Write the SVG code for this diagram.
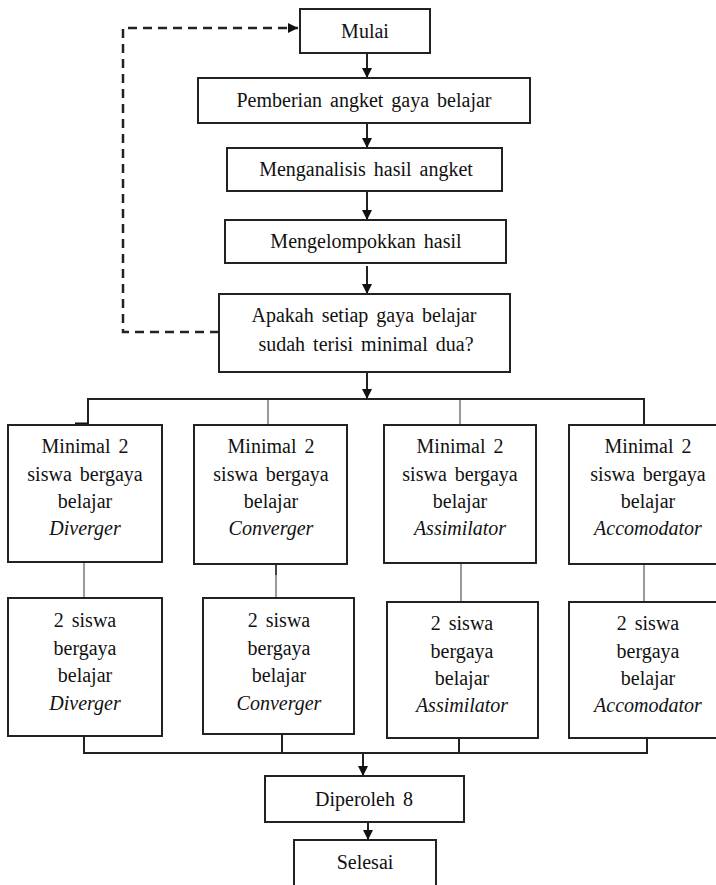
<svg xmlns="http://www.w3.org/2000/svg" width="716" height="885" viewBox="0 0 716 885">
<style>
.box{fill:#fff;stroke:#222;stroke-width:2}
.t{font-family:"Liberation Serif","Times New Roman",serif;font-size:20px;fill:#111;text-anchor:middle;word-spacing:3px}
.i{font-style:italic;word-spacing:0}
.ln{fill:none;stroke:#222;stroke-width:2}
.gr{fill:none;stroke:#9a9a9a;stroke-width:2}
.dash{fill:none;stroke:#222;stroke-width:2.5;stroke-dasharray:9 6}
</style>
<defs>
<marker id="ah" markerUnits="userSpaceOnUse" markerWidth="10" markerHeight="10" viewBox="0 0 10 10" refX="10" refY="5" orient="auto">
<path d="M0,0 L10,5 L0,10 Z" fill="#111"/>
</marker>
</defs>
<rect width="716" height="885" fill="#fff"/>
<g id="connectors">
<path class="dash" d="M219,332 H123 V28 H298" marker-end="url(#ah)"/>
<line class="ln" x1="367" y1="53" x2="367" y2="78" marker-end="url(#ah)"/>
<line class="ln" x1="367" y1="123" x2="367" y2="148" marker-end="url(#ah)"/>
<line class="ln" x1="367" y1="191" x2="367" y2="220" marker-end="url(#ah)"/>
<line class="ln" x1="367" y1="266" x2="367" y2="294" marker-end="url(#ah)"/>
<line class="ln" x1="367" y1="372" x2="367" y2="399" marker-end="url(#ah)"/>
<path class="ln" d="M75,425 H88 V399 H644 V425"/>
<line x1="75" y1="424" x2="88" y2="424" stroke="#111" stroke-width="3"/>
<line class="gr" x1="268" y1="400" x2="268" y2="425"/>
<line class="gr" x1="460" y1="400" x2="460" y2="425"/>
<line class="gr" x1="84" y1="562" x2="84" y2="598"/>
<line class="gr" x1="276" y1="564" x2="276" y2="598"/>
<line x1="276" y1="564" x2="276" y2="575" stroke="#444" stroke-width="2"/>
<line class="gr" x1="461" y1="563" x2="461" y2="602"/>
<line class="gr" x1="644" y1="564" x2="644" y2="602"/>
<path class="ln" d="M84,736 V753 H647 V738"/>
<line class="ln" x1="282" y1="734" x2="282" y2="753"/>
<line class="ln" x1="459" y1="738" x2="459" y2="753"/>
<line class="ln" x1="363" y1="753" x2="363" y2="776" marker-end="url(#ah)"/>
<line class="ln" x1="368" y1="822" x2="368" y2="840" marker-end="url(#ah)"/>
</g>
<g id="mulai"><rect class="box" x="300" y="9" width="130" height="44"/><text class="t" x="365" y="38">Mulai</text></g>
<g id="pemberian"><rect class="box" x="198" y="78" width="332" height="45"/><text class="t" x="364" y="107">Pemberian angket gaya belajar</text></g>
<g id="menganalisis"><rect class="box" x="227" y="148" width="275" height="43"/><text class="t" x="366" y="176">Menganalisis hasil angket</text></g>
<g id="mengelompokkan"><rect class="box" x="225" y="220" width="281" height="43"/><text class="t" x="366" y="248">Mengelompokkan hasil</text></g>
<g id="apakah"><rect class="box" x="219" y="294" width="291" height="78"/><text class="t" x="364" y="322">Apakah setiap gaya belajar</text><text class="t" x="366" y="351">sudah terisi minimal dua?</text></g>
<g id="min-diverger"><rect class="box" x="8" y="425" width="154" height="137"/><text class="t" x="85" y="453">Minimal 2</text><text class="t" x="85" y="481">siswa bergaya</text><text class="t" x="85" y="508">belajar</text><text class="t i" x="85" y="535">Diverger</text></g>
<g id="min-converger"><rect class="box" x="194" y="425" width="153" height="139"/><text class="t" x="271" y="453">Minimal 2</text><text class="t" x="271" y="481">siswa bergaya</text><text class="t" x="271" y="508">belajar</text><text class="t i" x="271" y="535">Converger</text></g>
<g id="min-assimilator"><rect class="box" x="384" y="425" width="152" height="138"/><text class="t" x="460" y="453">Minimal 2</text><text class="t" x="460" y="481">siswa bergaya</text><text class="t" x="460" y="508">belajar</text><text class="t i" x="460" y="535">Assimilator</text></g>
<g id="min-accomodator"><rect class="box" x="569" y="425" width="160" height="139"/><text class="t" x="648" y="453">Minimal 2</text><text class="t" x="648" y="481">siswa bergaya</text><text class="t" x="648" y="508">belajar</text><text class="t i" x="648" y="535">Accomodator</text></g>
<g id="dua-diverger"><rect class="box" x="8" y="598" width="154" height="138"/><text class="t" x="85" y="627">2 siswa</text><text class="t" x="85" y="655">bergaya</text><text class="t" x="85" y="682">belajar</text><text class="t i" x="85" y="710">Diverger</text></g>
<g id="dua-converger"><rect class="box" x="203" y="598" width="151" height="136"/><text class="t" x="279" y="627">2 siswa</text><text class="t" x="279" y="655">bergaya</text><text class="t" x="279" y="682">belajar</text><text class="t i" x="279" y="710">Converger</text></g>
<g id="dua-assimilator"><rect class="box" x="387" y="602" width="151" height="136"/><text class="t" x="462" y="630">2 siswa</text><text class="t" x="462" y="658">bergaya</text><text class="t" x="462" y="685">belajar</text><text class="t i" x="462" y="712">Assimilator</text></g>
<g id="dua-accomodator"><rect class="box" x="569" y="602" width="160" height="136"/><text class="t" x="648" y="630">2 siswa</text><text class="t" x="648" y="658">bergaya</text><text class="t" x="648" y="685">belajar</text><text class="t i" x="648" y="712">Accomodator</text></g>
<g id="diperoleh"><rect class="box" x="265" y="776" width="199" height="46"/><text class="t" x="364" y="806">Diperoleh 8</text></g>
<g id="selesai"><rect class="box" x="294" y="840" width="142" height="60"/><text class="t" x="365" y="869">Selesai</text></g>
</svg>
